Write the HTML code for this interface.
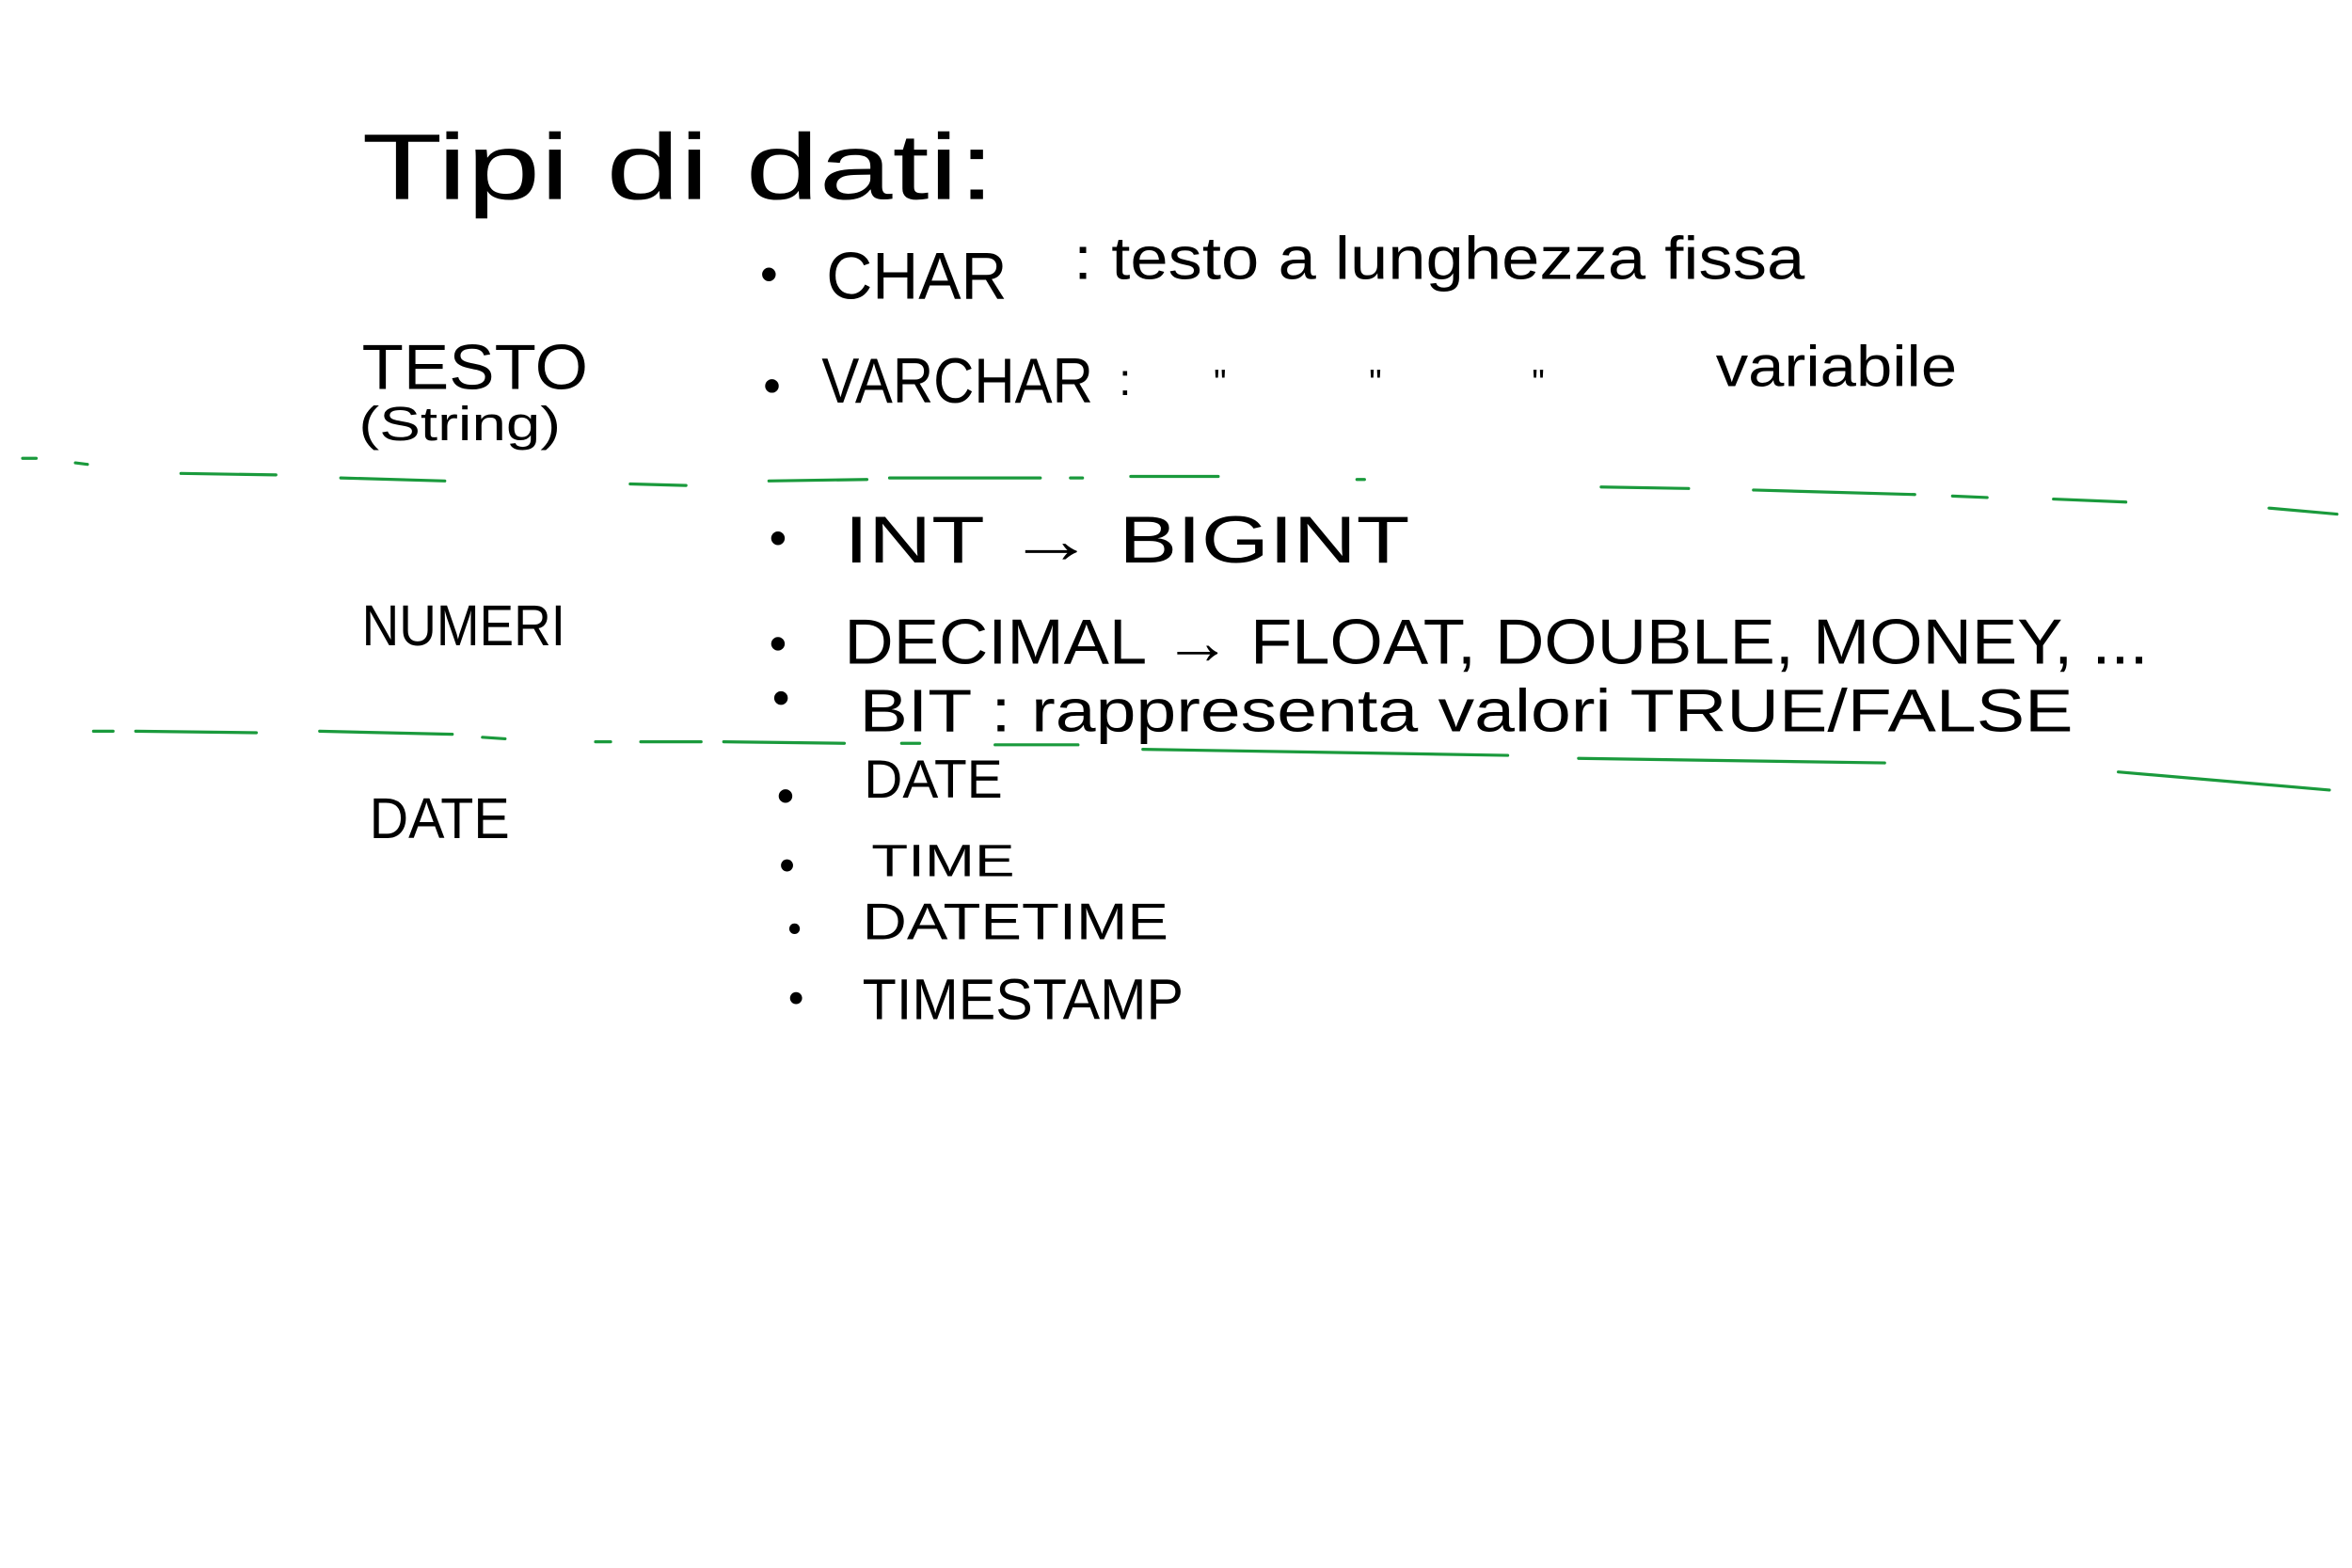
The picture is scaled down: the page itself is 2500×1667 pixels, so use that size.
<!DOCTYPE html>
<html><head><meta charset="utf-8"><style>
html,body{margin:0;padding:0;background:#fff;}
svg{display:block;}
text{font-family:"Liberation Sans",sans-serif;fill:#000;}
</style></head><body>
<svg width="2500" height="1667" viewBox="0 0 1560 1040" preserveAspectRatio="none" xmlns="http://www.w3.org/2000/svg">
<rect width="1560" height="1040" fill="#fff"/>
<g font-weight="normal">
<text x="240" y="132" font-size="62" textLength="420" lengthAdjust="spacingAndGlyphs">Tipi  di  dati:</text>
<circle cx="510" cy="182" r="4.5"/>
<text x="548" y="198" font-size="44" textLength="120" lengthAdjust="spacingAndGlyphs">CHAR</text>
<text x="712" y="185" font-size="40" textLength="485" lengthAdjust="spacingAndGlyphs">:  testo  a  lunghezza fissa</text>
<text x="240" y="258" font-size="42" textLength="150" lengthAdjust="spacingAndGlyphs">TESTO</text>
<text x="238" y="292" font-size="32" textLength="134" lengthAdjust="spacingAndGlyphs">(String)</text>
<circle cx="512" cy="256" r="4.5"/>
<text x="545" y="267" font-size="42" textLength="180" lengthAdjust="spacingAndGlyphs">VARCHAR</text>
<text x="742" y="262" font-size="30">:</text>
<text x="805" y="262" font-size="24">"</text>
<text x="908" y="262" font-size="24">"</text>
<text x="1016" y="262" font-size="24">"</text>
<text x="1138" y="256" font-size="38" textLength="160" lengthAdjust="spacingAndGlyphs">variabile</text>

<circle cx="516" cy="357" r="4.5"/>
<text x="560" y="373" font-size="44" textLength="375" lengthAdjust="spacingAndGlyphs">INT → BIGINT</text>
<text x="240" y="428" font-size="38" textLength="135" lengthAdjust="spacingAndGlyphs">NUMERI</text>
<circle cx="516" cy="427" r="4.5"/>
<text x="560" y="440" font-size="42" textLength="865" lengthAdjust="spacingAndGlyphs">DECIMAL → FLOAT, DOUBLE, MONEY, ...</text>
<circle cx="518" cy="463" r="4.5"/>
<text x="570" y="485" font-size="40" textLength="805" lengthAdjust="spacingAndGlyphs">BIT : rappresenta  valori  TRUE/FALSE</text>

<text x="245" y="556" font-size="38" textLength="93" lengthAdjust="spacingAndGlyphs">DATE</text>
<circle cx="521" cy="528" r="4.5"/>
<text x="573" y="529" font-size="36" textLength="92" lengthAdjust="spacingAndGlyphs">DATE</text>
<circle cx="522" cy="574" r="4"/>
<text x="578" y="581" font-size="30" textLength="95" lengthAdjust="spacingAndGlyphs">TIME</text>
<circle cx="527" cy="616" r="3.5"/>
<text x="572" y="623" font-size="34" textLength="203" lengthAdjust="spacingAndGlyphs">DATETIME</text>
<circle cx="528" cy="662" r="4"/>
<text x="572" y="676" font-size="38" textLength="213" lengthAdjust="spacingAndGlyphs">TIMESTAMP</text>
</g>
<g stroke="#1a9a3c" stroke-width="2" stroke-linecap="round" fill="none">
<line x1="15" y1="304" x2="24" y2="304"/>
<line x1="50" y1="307" x2="58" y2="308"/>
<line x1="120" y1="314" x2="183" y2="315"/>
<line x1="226" y1="317" x2="295" y2="319"/>
<line x1="418" y1="321" x2="455" y2="322"/>
<line x1="510" y1="319" x2="575" y2="318"/>
<line x1="590" y1="317" x2="690" y2="317"/>
<line x1="710" y1="317" x2="718" y2="317"/>
<line x1="750" y1="316" x2="808" y2="316"/>
<line x1="900" y1="318" x2="905" y2="318"/>
<line x1="1062" y1="323" x2="1120" y2="324"/>
<line x1="1163" y1="325" x2="1270" y2="328"/>
<line x1="1295" y1="329" x2="1318" y2="330"/>
<line x1="1362" y1="331" x2="1410" y2="333"/>
<line x1="1505" y1="337" x2="1550" y2="341"/>
<line x1="62" y1="485" x2="75" y2="485"/>
<line x1="90" y1="485" x2="170" y2="486"/>
<line x1="212" y1="485" x2="300" y2="487"/>
<line x1="320" y1="489" x2="335" y2="490"/>
<line x1="395" y1="492" x2="405" y2="492"/>
<line x1="425" y1="492" x2="465" y2="492"/>
<line x1="480" y1="492" x2="560" y2="493"/>
<line x1="598" y1="493" x2="610" y2="493"/>
<line x1="660" y1="494" x2="715" y2="494"/>
<line x1="758" y1="497" x2="1000" y2="501"/>
<line x1="1047" y1="503" x2="1250" y2="506"/>
<line x1="1405" y1="512" x2="1545" y2="524"/>
</g>
</svg>
</body></html>
